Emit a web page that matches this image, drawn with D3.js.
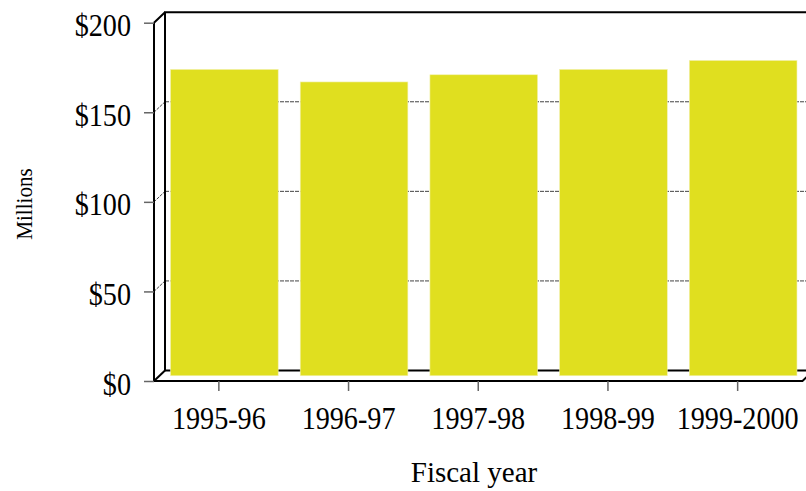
<!doctype html>
<html>
<head>
<script src="https://cdn.jsdelivr.net/npm/d3@7"></script>
<style>
  body { margin: 0; background: #fff; }
  svg { display: block; }
  text { font-family: "Liberation Serif", "Times New Roman", serif; fill: #000; }
</style>
</head>
<body>
<svg width="806" height="491"></svg>
<script>
// values (millions of dollars)
var years = ["1995-96", "1996-97", "1997-98", "1998-99", "1999-2000"];
var spending = [171, 164, 168, 171, 176];
var yTicks = [0, 50, 100, 150, 200];

var svg = d3.select("svg");

// front plane of the 3d box, and the depth offset to the back wall
var plotL = 154, plotR = 802.5, plotT = 22.7, plotB = 381;
var dx = 11, dy = -10.5;

var x = d3.scaleBand()
          .domain(years)
          .range([plotL, plotR])
          .paddingInner(0.17)
          .paddingOuter(0.085);

var y = d3.scaleLinear()
          .domain([0, 200])
          .range([plotB, plotT]);

var data = years.map((d, i) => ({year: d, value: spending[i]}));

// back wall gridlines (dashed)
svg.append("g").selectAll("line")
   .data(yTicks.filter(d => d > 0 && d < 200))
   .enter().append("line")
   .attr("x1", plotL + dx).attr("x2", plotR + dx)
   .attr("y1", d => y(d) + dy).attr("y2", d => y(d) + dy)
   .style("stroke", "#444")
   .style("stroke-width", 1)
   .style("stroke-dasharray", "4,1");

// side wall diagonals
svg.append("g").selectAll("line")
   .data(yTicks)
   .enter().append("line")
   .attr("x1", plotL).attr("x2", plotL + dx)
   .attr("y1", d => y(d)).attr("y2", d => y(d) + dy)
   .style("stroke", d => (d == 0 || d == 200) ? "#000" : "#444")
   .style("stroke-width", d => (d == 0 || d == 200) ? 2 : 1)
   .style("stroke-dasharray", d => (d == 0 || d == 200) ? null : "3,1");

// back wall outline
svg.append("path")
   .attr("d", `M${plotR + dx + 20},${y(200) + dy}H${plotL + dx}V${y(0) + dy}H${plotR + dx}`)
   .style("fill", "none")
   .style("stroke", "#000")
   .style("stroke-width", 2);

// bars sit half way into the box
svg.append("g").selectAll("rect")
   .data(data)
   .enter().append("rect")
   .attr("x", d => x(d.year) + dx / 2)
   .attr("y", d => y(d.value) + dy / 2)
   .attr("width", x.bandwidth())
   .attr("height", d => y(0) - y(d.value))
   .style("fill", "#e0df1f")
   .style("stroke", "#f2f1b0")
   .style("stroke-width", 0.6);

// front edges
svg.append("path")
   .attr("d", `M${plotL},${y(200)}V${y(0)}H${plotR}L${plotR + dx},${y(0) + dy}`)
   .style("fill", "none")
   .style("stroke", "#000")
   .style("stroke-width", 2);

// axes: tick marks from d3, labels drawn narrow like the original
svg.append("g")
   .attr("transform", `translate(${plotL},0)`)
   .call(d3.axisLeft(y).tickValues(yTicks).tickSize(10).tickFormat(""))
   .call(g => g.select(".domain").remove())
   .selectAll("line").style("stroke", "#666").style("stroke-width", 1.5);

svg.append("g")
   .attr("transform", `translate(0,${plotB})`)
   .call(d3.axisBottom(x).tickSize(10).tickFormat(""))
   .call(g => g.select(".domain").remove())
   .selectAll("line").style("stroke", "#666").style("stroke-width", 1.5);

svg.append("g").selectAll("text")
   .data(yTicks)
   .enter().append("text")
   .attr("transform", d => `translate(131,${y(d) + 13.5}) scale(0.88,1)`)
   .attr("text-anchor", "end")
   .style("font-size", "32px")
   .text(d => "$" + d);

svg.append("g").selectAll("text")
   .data(years)
   .enter().append("text")
   .attr("transform", d => `translate(${x(d) + x.bandwidth() / 2},429) scale(0.88,1)`)
   .attr("text-anchor", "middle")
   .style("font-size", "32px")
   .text(d => d);

svg.append("text")
   .attr("transform", "translate(32,204) rotate(-90) scale(0.88,1)")
   .attr("text-anchor", "middle")
   .style("font-size", "24px")
   .text("Millions");

svg.append("text")
   .attr("x", 474)
   .attr("y", 482)
   .attr("text-anchor", "middle")
   .style("font-size", "29px")
   .text("Fiscal year");
</script>
</body>
</html>
